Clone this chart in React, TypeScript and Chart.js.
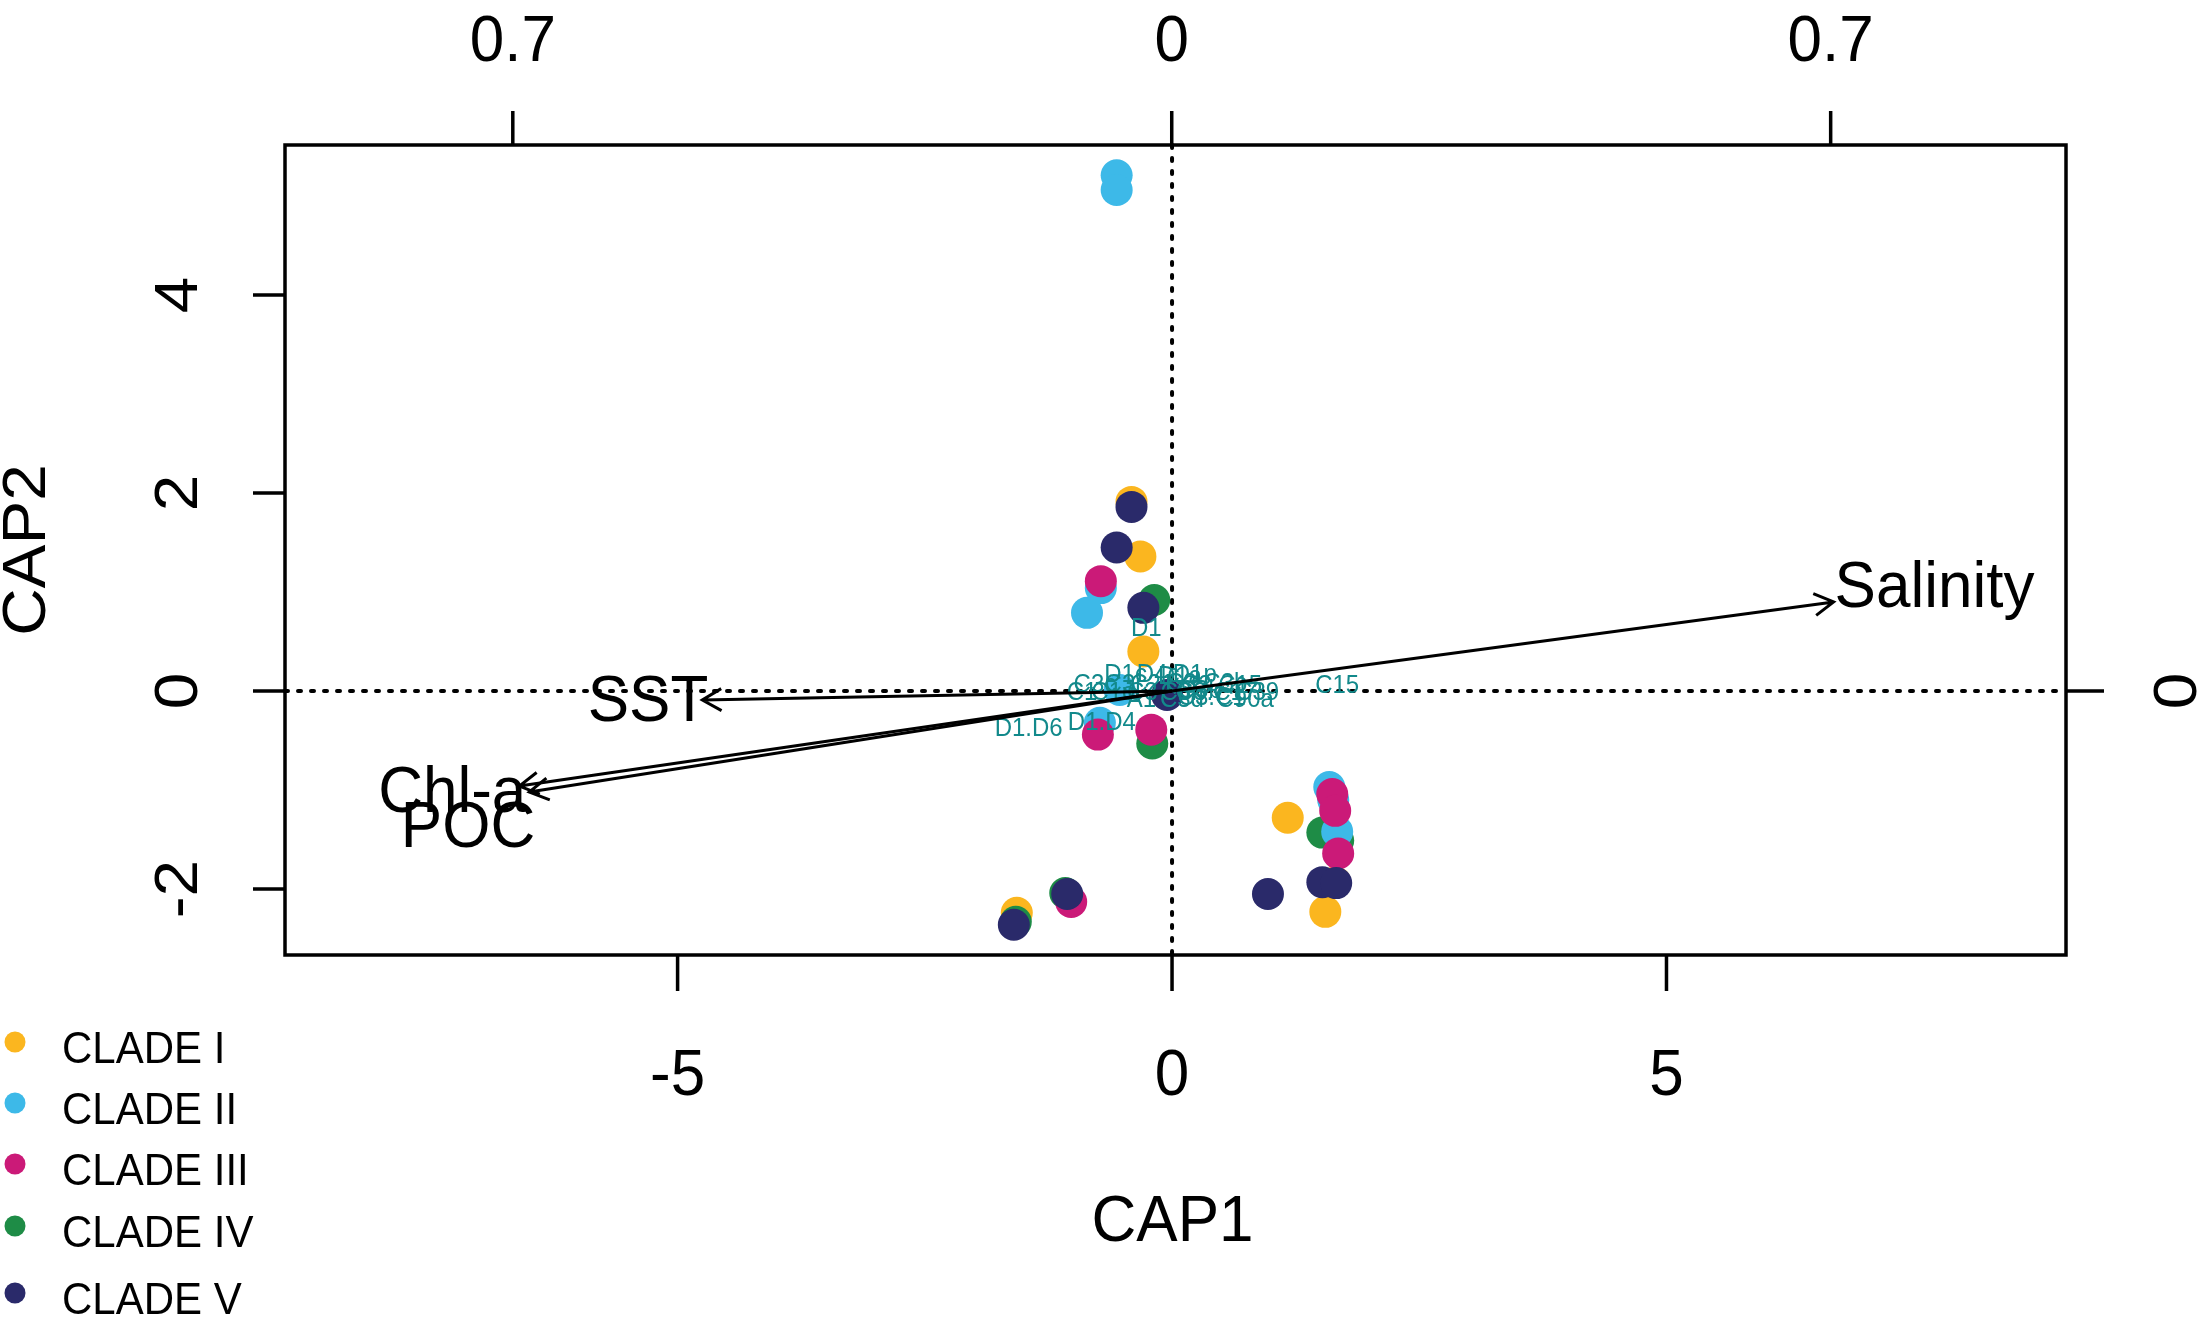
import React, { useEffect, useRef } from "react";
import { Chart, registerables } from "chart.js";

Chart.register(...registerables);

const W = 2201;
const H = 1319;

// ---- Site scores (CAP1, CAP2) by clade ----
const cladeNames = ["CLADE I", "CLADE II", "CLADE III", "CLADE IV", "CLADE V"];
const cladeColors = ["#FBB61F", "#3DB9E8", "#CB1A78", "#1E8C46", "#2A2A6A"];
const cladeDrawOrder = [4, 2, 1, 3, 0];

const clade1X = [-0.41, -0.32, -0.29, 1.17, 1.65, 1.55, -1.57];
const clade1Y = [1.91, 1.36, 0.40, -1.28, -1.93, -2.23, -2.24];

const clade2X = [-0.56, -0.56, -0.72, -0.86, -0.53, -0.73, 1.59, 1.63, 1.67];
const clade2Y = [5.21, 5.06, 1.04, 0.79, 0.01, -0.32, -0.97, -1.10, -1.42];

const clade3X = [-0.72, -0.75, -0.21, 1.62, 1.65, 1.68, -1.02];
const clade3Y = [1.11, -0.44, -0.39, -1.04, -1.21, -1.64, -2.13];

const clade4X = [-0.18, -0.20, 1.52, 1.68, -1.08, -1.58];
const clade4Y = [0.92, -0.53, -1.43, -1.51, -2.04, -2.33];

const clade5X = [-0.41, -0.56, -0.29, -0.05, 1.52, 1.66, 0.97, -1.06, -1.60];
const clade5Y = [1.86, 1.45, 0.84, -0.04, -1.93, -1.94, -2.05, -2.05, -2.36];

const cladeXs = [clade1X, clade2X, clade3X, clade4X, clade5X];
const cladeYs = [clade1Y, clade2Y, clade3Y, clade4Y, clade5Y];

// ---- Species (symbiont type) scores ----
const speciesNames = [
  "D1", "C15", "D1.D6", "D1.D4",
  "D1c", "D4c", "D1p", "D1a",
  "C3c", "C3j", "C21", "C3.C3b", "C3.C15",
  "C1", "C1c", "C3", "C3k", "C3.C17", "C3b", "C39",
  "A1", "C3d", "C3.C1", "C90a",
];
const speciesX = [
  -0.26, 1.67, -1.45, -0.71,
  -0.47, -0.14, 0.23, 0.08,
  -0.78, -0.50, -0.20, 0.35, 0.50,
  -0.91, -0.60, -0.30, 0.10, 0.45, 0.28, 0.86,
  -0.31, 0.10, 0.40, 0.74,
];
const speciesY = [
  0.645, 0.07, -0.36, -0.30,
  0.18, 0.18, 0.18, 0.16,
  0.08, 0.08, 0.08, 0.09, 0.07,
  0.0, 0.0, 0.0, 0.0, 0.0, 0.02, 0.0,
  -0.07, -0.07, -0.05, -0.07,
];

// ---- Environmental biplot arrows ----
const envNames = ["Salinity", "SST", "Chl-a", "POC"];
const envX = [6.69, -4.75, -6.60, -6.50];
const envY = [0.90, -0.09, -0.96, -1.02];
const envLabelX = [6.70, -4.69, -6.53, -6.44];
const envLabelY = [1.09, -0.065, -0.98, -1.34];

// ---- Axes ----
const xMin = -8.97;
const xMax = 9.04;
const yMin = -2.666;
const yMax = 5.515;
const x2Min = -0.942;
const x2Max = 0.95;
const bottomTicks = [-5, 0, 5];
const bottomTickLabels = ["-5", "0", "5"];
const leftTicks = [-2, 0, 2, 4];
const leftTickLabels = ["-2", "0", "2", "4"];
const topTicks = [-0.7, 0, 0.7];
const topTickLabels = ["0.7", "0", "0.7"];
const rightTicks = [0];
const rightTickLabels = ["0"];
const xTitle = "CAP1";
const yTitle = "CAP2";

const FONT = '"Liberation Sans", Arial, Helvetica, sans-serif';
const SY = 1.06;

function drawText(
  ctx: CanvasRenderingContext2D,
  s: string,
  x: number,
  y: number,
  size: number,
  align: CanvasTextAlign,
  rot = 0,
  color = "#000"
) {
  ctx.save();
  ctx.translate(x, y);
  ctx.scale(1, SY);
  if (rot) ctx.rotate(rot);
  ctx.font = `${size}px ${FONT}`;
  ctx.fillStyle = color;
  ctx.textAlign = align;
  ctx.textBaseline = "alphabetic";
  ctx.fillText(s, 0, 0.358 * size);
  ctx.restore();
}

function drawArrow(ctx: CanvasRenderingContext2D, x0: number, y0: number, x1: number, y1: number) {
  const ang = Math.atan2(y1 - y0, x1 - x0);
  const L = 22;
  const a = (30 * Math.PI) / 180;
  ctx.beginPath();
  ctx.moveTo(x0, y0);
  ctx.lineTo(x1, y1);
  ctx.moveTo(x1 - L * Math.cos(ang - a), y1 - L * Math.sin(ang - a));
  ctx.lineTo(x1, y1);
  ctx.lineTo(x1 - L * Math.cos(ang + a), y1 - L * Math.sin(ang + a));
  ctx.stroke();
}

const decorPlugin = {
  id: "decor",
  beforeDatasetsDraw(chart: any) {
    const ctx: CanvasRenderingContext2D = chart.ctx;
    const { left, right, top, bottom } = chart.chartArea;
    const sx = chart.scales.x;
    const sy = chart.scales.y;
    const x0 = sx.getPixelForValue(0);
    const y0 = sy.getPixelForValue(0);
    ctx.save();
    ctx.strokeStyle = "#000";
    ctx.lineWidth = 4;
    ctx.lineCap = "round";
    ctx.setLineDash([3, 10]);
    ctx.beginPath();
    ctx.moveTo(left, y0);
    ctx.lineTo(right, y0);
    ctx.moveTo(x0, top);
    ctx.lineTo(x0, bottom);
    ctx.stroke();
    ctx.restore();
  },
  afterDatasetsDraw(chart: any) {
    const ctx: CanvasRenderingContext2D = chart.ctx;
    const { left, right, top, bottom } = chart.chartArea;
    const sx = chart.scales.x;
    const sy = chart.scales.y;
    const sx2 = chart.scales.x2;
    const sy2 = chart.scales.y2;
    const ox = sx.getPixelForValue(0);
    const oy = sy.getPixelForValue(0);

    // species labels
    speciesNames.forEach((n, i) => {
      drawText(ctx, n, sx.getPixelForValue(speciesX[i]), sy.getPixelForValue(speciesY[i]), 24, "center", 0, "#12898b");
    });

    // arrows
    ctx.save();
    ctx.strokeStyle = "#000";
    ctx.lineWidth = 3;
    ctx.lineCap = "butt";
    ctx.lineJoin = "miter";
    envNames.forEach((n, i) => {
      drawArrow(ctx, ox, oy, sx.getPixelForValue(envX[i]), sy.getPixelForValue(envY[i]));
    });
    ctx.restore();
    envNames.forEach((n, i) => {
      drawText(
        ctx,
        n,
        sx.getPixelForValue(envLabelX[i]),
        sy.getPixelForValue(envLabelY[i]),
        62,
        envX[i] > 0 ? "left" : "right"
      );
    });

    // box + ticks
    ctx.save();
    ctx.strokeStyle = "#000";
    ctx.lineWidth = 3.5;
    ctx.lineCap = "butt";
    ctx.strokeRect(left, top, right - left, bottom - top);
    ctx.beginPath();
    bottomTicks.forEach((v) => {
      const p = sx.getPixelForValue(v);
      ctx.moveTo(p, bottom);
      ctx.lineTo(p, bottom + 36);
    });
    topTicks.forEach((v) => {
      const p = sx2.getPixelForValue(v);
      ctx.moveTo(p, top);
      ctx.lineTo(p, top - 34);
    });
    leftTicks.forEach((v) => {
      const p = sy.getPixelForValue(v);
      ctx.moveTo(left, p);
      ctx.lineTo(left - 32, p);
    });
    rightTicks.forEach((v) => {
      const p = sy2.getPixelForValue(v);
      ctx.moveTo(right, p);
      ctx.lineTo(right + 38, p);
    });
    ctx.stroke();
    ctx.restore();

    // tick labels
    bottomTicks.forEach((v, i) => drawText(ctx, bottomTickLabels[i], sx.getPixelForValue(v), bottom + 116, 62, "center"));
    topTicks.forEach((v, i) => drawText(ctx, topTickLabels[i], sx2.getPixelForValue(v), top - 108, 62, "center"));
    leftTicks.forEach((v, i) => drawText(ctx, leftTickLabels[i], left - 110, sy.getPixelForValue(v), 62, "center", -Math.PI / 2));
    rightTicks.forEach((v, i) => drawText(ctx, rightTickLabels[i], right + 108, sy2.getPixelForValue(v), 62, "center", -Math.PI / 2));

    // axis titles
    drawText(ctx, xTitle, (left + right) / 2 - 3, bottom + 262, 62, "center");
    drawText(ctx, yTitle, left - 262, (top + bottom) / 2, 62, "center", -Math.PI / 2);

    // legend
    const rowY = [1042, 1103, 1164, 1226, 1293];
    cladeNames.forEach((n, i) => {
      ctx.save();
      ctx.fillStyle = cladeColors[i];
      ctx.beginPath();
      ctx.arc(15, rowY[i], 10.5, 0, Math.PI * 2);
      ctx.fill();
      ctx.restore();
      drawText(ctx, n, 62, rowY[i] + 5, 42, "left");
    });
  },
};

export default function App() {
  const ref = useRef<HTMLCanvasElement | null>(null);

  useEffect(() => {
    if (!ref.current) return;
    const datasets = cladeNames.map((name, i) => ({
      label: name,
      data: cladeXs[i].map((x, j) => ({ x, y: cladeYs[i][j] })),
      backgroundColor: cladeColors[i],
      borderColor: cladeColors[i],
      borderWidth: 0,
      pointRadius: 16,
      pointHoverRadius: 16,
      order: cladeDrawOrder[i],
    }));
    const chart = new Chart(ref.current, {
      type: "scatter",
      data: { datasets },
      options: {
        responsive: false,
        animation: false,
        devicePixelRatio: 1,
        layout: { padding: { left: 285, right: W - 2066, top: 145, bottom: H - 955 } },
        plugins: { legend: { display: false }, tooltip: { enabled: false } },
        events: [],
        scales: {
          x: { type: "linear", min: xMin, max: xMax, display: false },
          y: { type: "linear", min: yMin, max: yMax, display: false },
          x2: { type: "linear", axis: "x", position: "top", min: x2Min, max: x2Max, display: false },
          y2: { type: "linear", axis: "y", position: "right", min: yMin, max: yMax, display: false },
        },
      } as any,
      plugins: [decorPlugin],
    });
    return () => chart.destroy();
  }, []);

  return (
    <div style={{ position: "absolute", left: 0, top: 0, width: W, height: H, background: "#fff" }}>
      <canvas ref={ref} width={W} height={H} style={{ width: W, height: H, display: "block" }} />
    </div>
  );
}
